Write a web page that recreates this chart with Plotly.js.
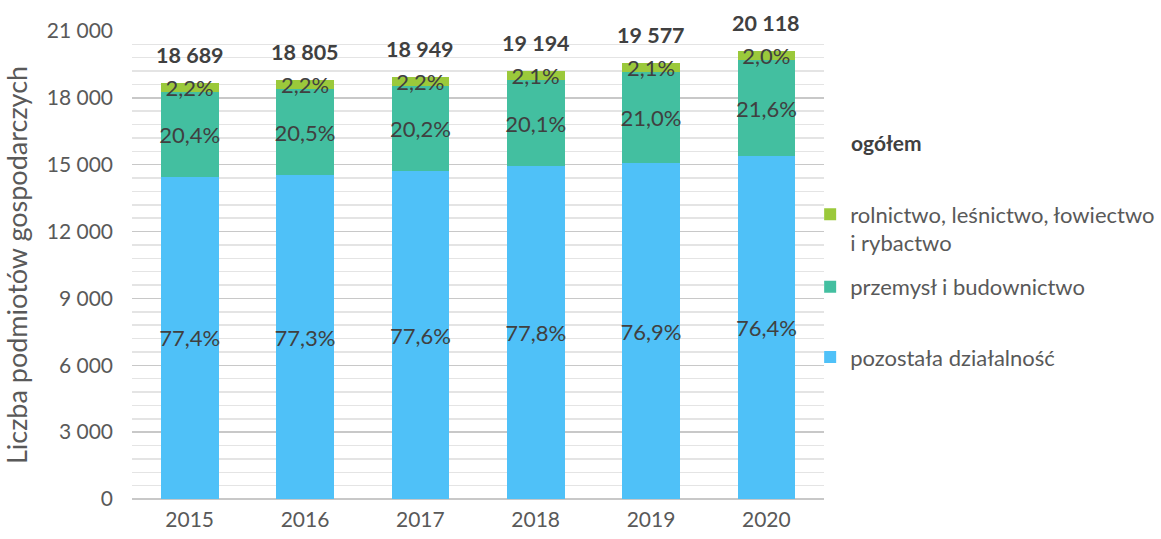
<!DOCTYPE html>
<html>
<head>
<meta charset="utf-8">
<script src="https://cdn.plot.ly/plotly-3.0.1.min.js"></script>
<style>html,body{margin:0;padding:0;background:#fff;}#chart{width:1161px;height:539px;}</style>
</head>
<body>
<div id="chart"></div>
<script>
const years = ['2015', '2016', '2017', '2018', '2019', '2020'];
const totals = [18689, 18805, 18949, 19194, 19577, 20118];
const pozostala = [14465, 14536, 14704, 14933, 15055, 15370];
const przemysl = [3813, 3855, 3828, 3858, 4111, 4345];
const rolnictwo = [411, 414, 417, 403, 411, 403];
const pctPozostala = ['77,4%', '77,3%', '77,6%', '77,8%', '76,9%', '76,4%'];
const pctPrzemysl = ['20,4%', '20,5%', '20,2%', '20,1%', '21,0%', '21,6%'];
const pctRolnictwo = ['2,2%', '2,2%', '2,2%', '2,1%', '2,1%', '2,0%'];
const yTicks = [0, 3000, 6000, 9000, 12000, 15000, 18000, 21000];

const FONT = 'Lato, "Open Sans", sans-serif';
const TXT = '#404040';
const GRAY = '#595959';

function fmt(n) { return String(n).replace(/\B(?=(\d{3})+(?!\d))/g, ' '); }

function barTrace(name, vals, labels, color, legendId) {
  return {
    type: 'bar', name: name, x: years, y: vals, text: labels,
    textposition: 'inside', insidetextanchor: 'middle', textangle: 0,
    constraintext: 'none', cliponaxis: false,
    textfont: {family: FONT, size: 22, color: TXT},
    marker: {color: color, line: {width: 0}},
    legend: legendId, hoverinfo: 'skip'
  };
}

const data = [
  barTrace('pozostała działalność', pozostala, pctPozostala, '#4FC1F8', 'legend3'),
  barTrace('przemysł i budownictwo', przemysl, pctPrzemysl, '#43BFA0', 'legend2'),
  barTrace('rolnictwo, leśnictwo, łowiectwo<br>i rybactwo', rolnictwo, pctRolnictwo, '#9BC93B', 'legend')
];

const annotations = years.map((y, i) => ({
  x: i, y: totals[i], xref: 'x', yref: 'y', text: '<b>' + fmt(totals[i]) + '</b>',
  showarrow: false, yanchor: 'bottom', yshift: 13,
  font: {family: FONT, size: 21.5, color: TXT}
}));
annotations.push({
  x: 1.036, y: 0.761, xref: 'paper', yref: 'paper', xanchor: 'left', yanchor: 'middle',
  text: '<b>ogółem</b>', showarrow: false, font: {family: FONT, size: 21, color: TXT}
});

function legendAt(yc) {
  return {
    x: 0.98, y: yc, xanchor: 'left', yanchor: 'middle', valign: 'top',
    font: {family: FONT, size: 22, color: GRAY}, bgcolor: 'rgba(0,0,0,0)'
  };
}

const layout = {
  width: 1161, height: 539,
  margin: {l: 132, r: 337, t: 31, b: 40, autoexpand: false},
  paper_bgcolor: '#fff', plot_bgcolor: '#fff',
  barmode: 'stack', bargap: 0.5,
  separators: ', ',
  font: {family: FONT, color: GRAY},
  showlegend: true,
  legend: legendAt(0.577),
  legend2: legendAt(0.453),
  legend3: legendAt(0.303),
  xaxis: {
    type: 'category', range: [-0.5, 5.5], autorange: false,
    showgrid: false, zeroline: false, showline: false,
    ticks: '', tickfont: {family: FONT, size: 21, color: GRAY}, ticklabelstandoff: 6
  },
  yaxis: {
    range: [0, 21000], autorange: false, tickvals: yTicks, tickformat: ',d',
    showgrid: true, gridcolor: '#c8c8c8', gridwidth: 1.5,
    zeroline: true, zerolinecolor: '#c8c8c8', zerolinewidth: 1.5,
    minor: {dtick: 600, tick0: 0, showgrid: true, gridcolor: '#e4e4e4', gridwidth: 1.5, ticks: ''},
    showline: false, ticks: '',
    tickfont: {family: FONT, size: 21, color: GRAY}, ticklabelstandoff: 18,
    title: {text: 'Liczba podmiotów gospodarczych', font: {family: FONT, size: 27, color: GRAY}, standoff: 12}
  },
  annotations: annotations
};

Plotly.newPlot('chart', data, layout, {displayModeBar: false, staticPlot: true});
</script>
</body>
</html>
